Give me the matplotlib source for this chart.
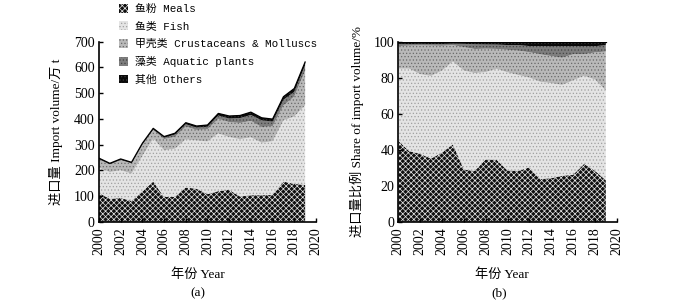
import matplotlib
matplotlib.use("Agg")
import matplotlib.pyplot as plt
import numpy as np
from matplotlib.patches import Patch

plt.rcParams['hatch.linewidth'] = 0.5

years = [2000, 2001, 2002, 2003, 2004, 2005, 2006, 2007, 2008, 2009,
         2010, 2011, 2012, 2013, 2014, 2015, 2016, 2017, 2018, 2019]
meals = [111, 89, 92, 81, 117, 156, 96, 97, 133, 128,
         107, 119, 124, 98, 103, 103, 104, 156, 147, 143]
fish = [99, 104, 108, 106, 139, 167, 182, 187, 187, 188,
        205, 224, 205, 223, 225, 204, 209, 238, 262, 310]
crust = [31, 29, 39, 39, 42, 33, 43, 46, 50, 41,
         47, 57, 58, 63, 64, 61, 58, 58, 78, 134]
plants = [3, 2, 2, 2, 3, 3, 6, 9, 9, 9,
          10, 13, 14, 19, 23, 26, 18, 22, 18, 22]
others = [3, 3, 3, 3, 4, 4, 4, 5, 6, 6,
          7, 8, 10, 10, 11, 10, 10, 12, 13, 12]

labels = ["鱼粉 Meals", "鱼类 Fish", "甲壳类 Crustaceans & Molluscs",
          "藻类 Aquatic plants", "其他 Others"]
x_ticks = list(range(2000, 2021, 2))

styles = [
    dict(facecolor='#101010', hatch='xxxxxx', edgecolor='#e6e6e6'),
    dict(facecolor='#e4e4e4', hatch='.....', edgecolor='#a0a0a0'),
    dict(facecolor='#b9b9b9', hatch='.....', edgecolor='#6a6a6a'),
    dict(facecolor='#7e7e7e', hatch='.....', edgecolor='#444444'),
    dict(facecolor='#0a0a0a', hatch='.....', edgecolor='#3a3a3a'),
]

serif = ['Liberation Serif', 'Noto Sans CJK SC']
mono = ['Liberation Mono', 'Noto Sans CJK SC']

fig = plt.figure(figsize=(7.0, 3.01), dpi=100)
axA = fig.add_axes([0.1414, 0.2635, 0.310, 0.598])
axB = fig.add_axes([0.569, 0.2635, 0.312, 0.598])

series = [np.array(s, dtype=float) for s in (meals, fish, crust, plants, others)]
total = sum(series)
shares = [s / total * 100 for s in series]

def draw(ax, data, ymax, yticks):
    base = np.zeros(len(years))
    for d, st in zip(data, styles):
        ax.fill_between(years, base, base + d, linewidth=0, **st)
        base = base + d
    ax.plot(years, base, color='black', lw=0.9)
    ax.set_xlim(2000, 2020)
    ax.set_ylim(0, ymax)
    ax.set_xticks(x_ticks)
    ax.set_xticklabels([str(t) for t in x_ticks], rotation=90,
                       family=serif, fontsize=10)
    ax.set_yticks(yticks)
    ax.set_yticklabels([str(t) for t in yticks], family=serif, fontsize=10)
    ax.tick_params(direction='in', length=3, width=1)
    ax.tick_params(axis='x', pad=4)
    ax.tick_params(axis='y', pad=3)
    for s in ('top', 'right'):
        ax.spines[s].set_visible(False)
    for s in ('left', 'bottom'):
        ax.spines[s].set_linewidth(1.2)

draw(axA, series, 700, list(range(0, 701, 100)))
draw(axB, shares, 100, list(range(0, 101, 20)))

axA.set_ylabel("进口量 Import volume/万 t", family=serif, fontsize=9.5)
axA.yaxis.set_label_coords(-0.165, 0.5)
axB.set_ylabel("进口量比例 Share of import volume/%", family=serif, fontsize=9.5)
axB.yaxis.set_label_coords(-0.157, 0.5)

fig.text(198 / 700, 1 - 275 / 301, "年份 Year", family=serif, fontsize=9.5,
         ha='center', va='center')
fig.text(502 / 700, 1 - 275 / 301, "年份 Year", family=serif, fontsize=9.5,
         ha='center', va='center')
fig.text(198 / 700, 1 - 293 / 301, "(a)", family=serif, fontsize=9.5,
         ha='center', va='center')
fig.text(499 / 700, 1 - 293 / 301, "(b)", family=serif, fontsize=9.5,
         ha='center', va='center')

handles = [Patch(linewidth=0, **st) for st in styles]
fig.legend(handles, labels, loc='upper left',
           bbox_to_anchor=(119 / 700, 1 - 4 / 301),
           frameon=False, prop={'family': mono, 'size': 7.8},
           handlelength=0.85, handleheight=0.85, handletextpad=0.6,
           labelspacing=0.68, borderpad=0, borderaxespad=0)

fig.savefig("out.png", dpi=100)
